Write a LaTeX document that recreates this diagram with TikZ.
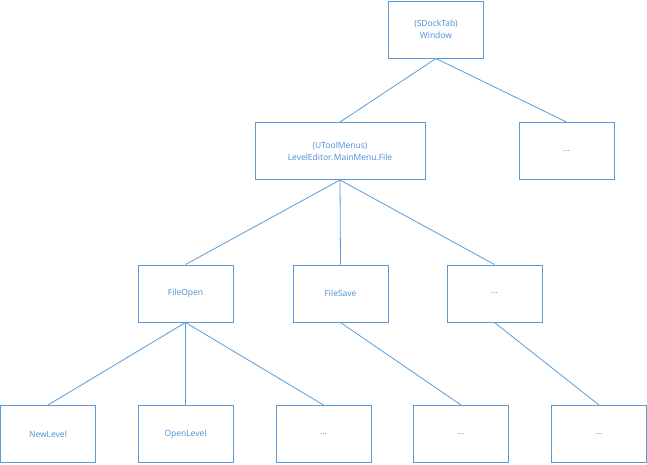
\documentclass[tikz,border=0pt]{standalone}
\usepackage{fontspec}
\setmainfont{Open Sans}
\definecolor{office}{HTML}{5B9BD5}
\definecolor{labelblue}{HTML}{4A8ED8}
\begin{document}
\begin{tikzpicture}[x=1pt,y=-1pt,
  box/.style={draw=office, line width=1pt, fill=white, minimum width=95pt, minimum height=57pt,
    inner sep=0pt, align=center, text=labelblue, font=\fontsize{8.5}{12}\selectfont},
  link/.style={draw=office, line width=0.8pt}]
\useasboundingbox (0,0) rectangle (647,464);
% root
\node[box] (win) at (436,29.5) {(SDockTab)\\Window};
% second level
\node[box, minimum width=170pt] (menu) at (340,151) {(UToolMenus)\\LevelEditor.MainMenu.File};
\node[box] (m2) at (566.5,151) {...};
% third level
\node[box] (open) at (185.5,293.5) {FileOpen};
\node[box] (save) at (340.5,293.5) {FileSave};
\node[box] (m3) at (494.5,293.5) {...};
% leaves
\node[box] (newlvl) at (48,434) {NewLevel};
\node[box] (openlvl) at (185.5,434) {OpenLevel};
\node[box] (l3) at (323.5,434) {...};
\node[box] (l4) at (461,434) {...};
\node[box] (l5) at (599,434) {...};
% connectors
\draw[link] (win.south) -- (menu.north);
\draw[link] (win.south) -- (m2.north);
\draw[link] (menu.south) -- (open.north);
\draw[link] (menu.south) -- (save.north);
\draw[link] (menu.south) -- (m3.north);
\draw[link] (open.south) -- (newlvl.north);
\draw[link] (open.south) -- (openlvl.north);
\draw[link] (open.south) -- (l3.north);
\draw[link] (save.south) -- (l4.north);
\draw[link] (m3.south) -- (l5.north);
\end{tikzpicture}
\end{document}
